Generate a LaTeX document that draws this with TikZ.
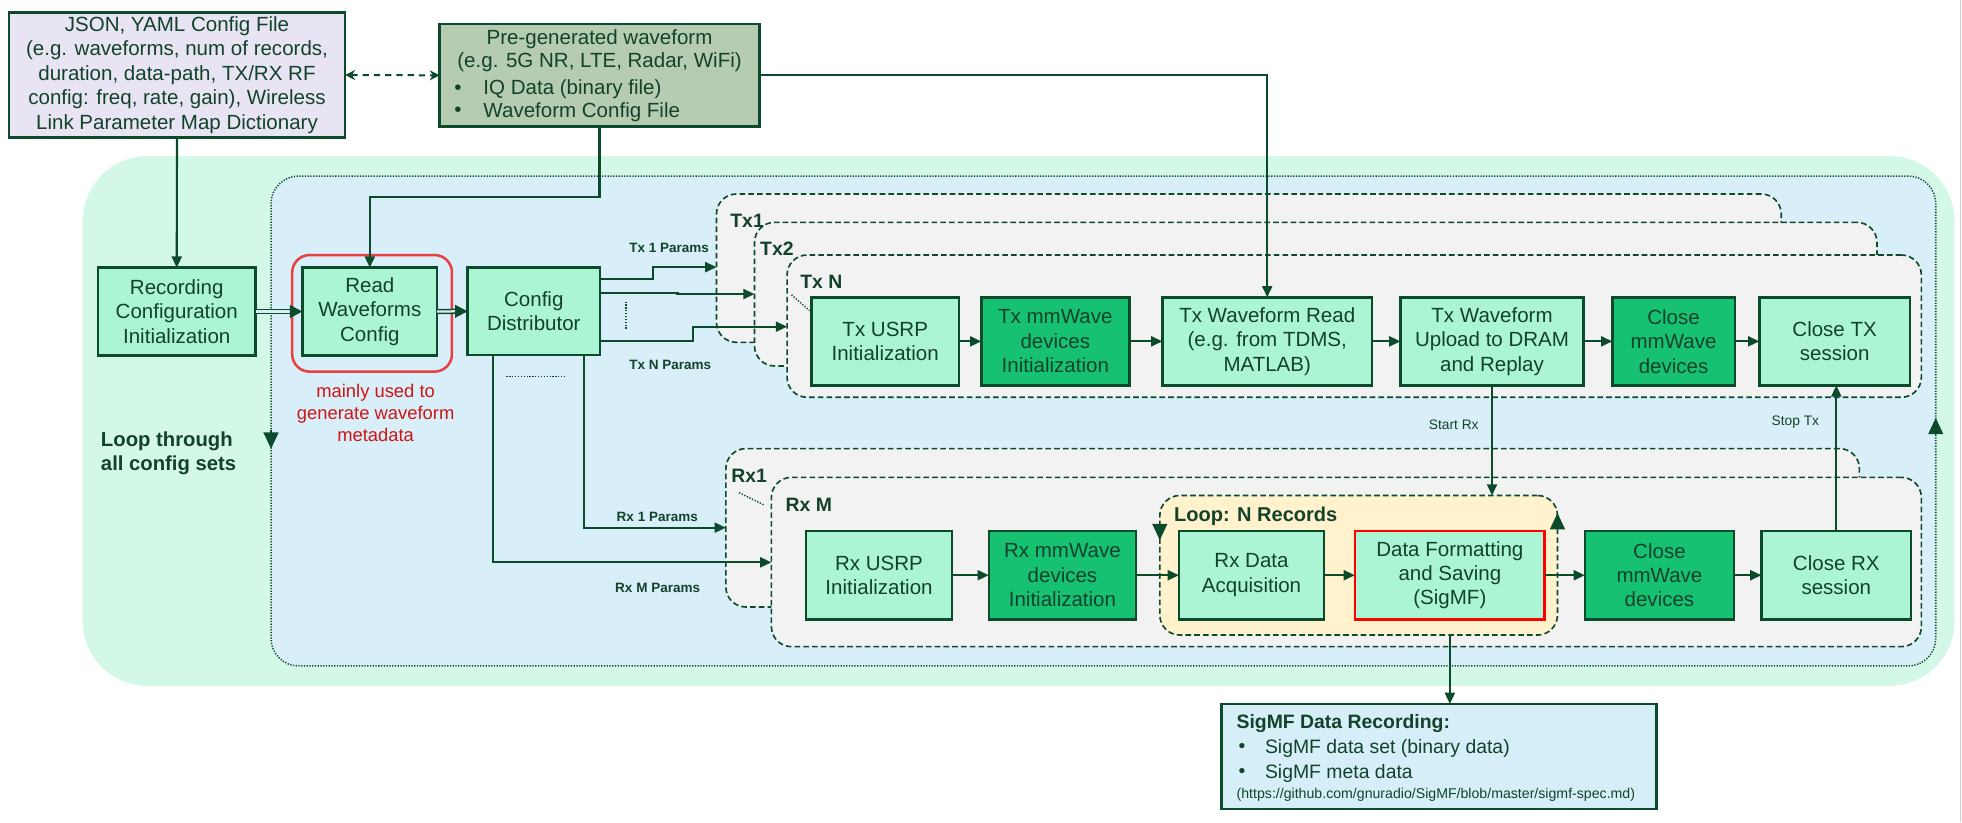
\documentclass[tikz,border=0pt]{standalone}
\usepackage{fontspec}
\setmainfont{Liberation Sans}
\usetikzlibrary{arrows.meta}

\definecolor{lnc}{HTML}{0B4A2B}
\definecolor{txc}{HTML}{12422A}
\definecolor{mintbg}{HTML}{D4F8E8}
\definecolor{bluebg}{HTML}{D8EFF9}
\definecolor{greybg}{HTML}{F2F2F2}
\definecolor{loopbg}{HTML}{FFF2CC}
\definecolor{boxlt}{HTML}{ABF5D5}
\definecolor{boxdk}{HTML}{16C172}
\definecolor{lav}{HTML}{E8E4F4}
\definecolor{sage}{HTML}{B6CCB2}
\definecolor{sigbg}{HTML}{D6EEF8}
\definecolor{redln}{HTML}{E83F3F}
\definecolor{redtx}{HTML}{CC1515}
\definecolor{edgegrey}{HTML}{CFCFCF}

\newcommand\fsz[2]{\fontsize{#1}{#2}\selectfont}

\tikzset{
  every node/.style={text=txc, inner sep=0pt, outer sep=0pt},
  box/.style={draw=lnc, line width=2pt, fill=boxlt, align=center, font=\fsz{16.4}{19.5}},
  boxd/.style={box, fill=boxdk},
  cont/.style={draw=lnc, line width=1.3pt, dash pattern=on 4.5pt off 2.5pt,
    fill=greybg, rounded corners=16pt},
  conn/.style={draw=lnc, line width=1.7pt, -{Triangle[length=9pt,width=8pt]}},
  dbl/.style={draw=lnc, line width=1.2pt, double distance=1.8pt},
  dotln/.style={draw=lnc, line width=1.2pt, dash pattern=on 1pt off 1.3pt},
  looptip/.style={draw=lnc, line width=1pt, -{Triangle[length=13pt,width=12pt]}},
  plbl/.style={font=\bfseries\fsz{10.8}{12}},
  slbl/.style={font=\fsz{11}{13}},
  clbl/.style={anchor=west, font=\bfseries\fsz{15.5}{18}},
}

\begin{document}
\begin{tikzpicture}[x=1pt,y=-1pt]
\useasboundingbox (0,0) rectangle (1568,657);

% page edge
\draw[edgegrey, line width=0.8pt] (1566.5,0) -- (1566.5,657);

% outer loop area and inner dotted region
\node[fill=mintbg, rounded corners=52pt, minimum width=1495.9pt, minimum height=423.5pt] (outer) at (814.05,336.45) {};
\node[draw=lnc, line width=1.2pt, dash pattern=on 1pt off 1.2pt, fill=bluebg, rounded corners=22pt,
      minimum width=1330.4pt, minimum height=391.5pt] (inner) at (881.8,336.45) {};

% loop direction tips on the dotted region
\draw[looptip] (inner.west |- 0,344) -- (inner.west |- 0,358.6);
\draw[looptip] (inner.east |- 0,348) -- (inner.east |- 0,334);

% input files
\node[box, fill=lav, font=\fsz{16.4}{19.6}, minimum width=268.7pt, minimum height=100.1pt] (json) at (141.45,59.95)
  {JSON, YAML Config File\\(e.g. waveforms, num of records,\\duration, data-path, TX/RX RF\\config: freq, rate, gain), Wireless\\Link Parameter Map Dictionary};
\node[box, fill=sage, minimum width=255.5pt, minimum height=82pt] (pregen) at (479.15,60.2) {};
\node[font=\fsz{16.4}{19.6}] (pg1) at (479.15,31.5) {Pre-generated waveform};
\node[font=\fsz{16.4}{19.6}] (pg2) at (479.15,49.5) {(e.g. 5G NR, LTE, Radar, WiFi)};
\node[font=\fsz{16.4}{19.6}] (pgb1) at (366,71.5) {\textbullet};
\node[font=\fsz{16.4}{19.6}, anchor=west] (pgt1) at (386.4,71.5) {IQ Data (binary file)};
\node[font=\fsz{16.4}{19.6}] (pgb2) at (366,89.5) {\textbullet};
\node[font=\fsz{16.4}{19.6}, anchor=west] (pgt2) at (386.4,89.5) {Waveform Config File};

% Tx containers
\node[cont, minimum width=850.9pt, minimum height=118.6pt] (tx1) at (998.05,214.3) {};
\node[cont, minimum width=897pt, minimum height=114.8pt] (tx2) at (1051.5,235.1) {};
\node[cont, minimum width=906.5pt, minimum height=113.7pt] (txn) at (1082.25,260.65) {};
\node[clbl] (tx1l) at (583.7,176.4) {Tx1};
\node[clbl] (tx2l) at (607.5,198.5) {Tx2};
\node[clbl] (txnl) at (639.6,225) {Tx N};

% Rx containers
\node[cont, minimum width=905.9pt, minimum height=126.6pt] (rx1) at (1033.05,421.8) {};
\node[cont, minimum width=919pt, minimum height=135.3pt] (rxm) at (1076,449.15) {};
\node[cont, fill=loopbg, minimum width=317.8pt, minimum height=111.5pt] (loop) at (1085.8,451.75) {};
\node[clbl] (rx1l) at (584.4,380.4) {Rx1};
\node[clbl] (rxml) at (627.9,403.6) {Rx M};
\node[clbl, font=\bfseries\fsz{16}{19}] (loopl) at (938.4,412.9) {Loop: N Records};
\draw[looptip] (loop.west |- 0,419.6) -- (loop.west |- 0,431.6);
\draw[looptip] (loop.east |- 0,423) -- (loop.east |- 0,410);

% ellipsis marks
\draw[dotln] (632.6,235.6) -- (646.9,248.2);
\draw[dotln] (590.7,393.7) -- (610.4,403.5);
\draw[dotln] (500.3,241) -- (500.3,263.6);
\draw[dotln] (404.7,301) -- (452.2,301);

% highlight around waveform config reader
\node[draw=redln, line width=2pt, rounded corners=14pt, minimum width=127.7pt, minimum height=93.2pt] (hl) at (297.35,250.4) {};

% setup blocks
\node[box, minimum width=125.9pt, minimum height=70.1pt] (rec) at (141.25,248.95) {Recording\\Configuration\\Initialization};
\node[box, minimum width=107.7pt, minimum height=70.1pt] (read) at (295.55,248.95) {Read\\Waveforms\\Config};
\node[box, minimum width=105.8pt, minimum height=69.8pt] (cdist) at (426.6,248.8) {Config\\Distributor};

% Tx chain
\node[box, minimum width=117.7pt, minimum height=70.4pt] (txusrp) at (707.45,272.8) {Tx USRP\\Initialization};
\node[boxd, minimum width=118.4pt, minimum height=70.4pt] (txmm) at (843.4,272.8) {Tx mmWave\\devices\\Initialization};
\node[box, minimum width=167.7pt, minimum height=70.4pt] (txread) at (1012.75,272.8) {Tx Waveform Read\\(e.g. from TDMS,\\MATLAB)};
\node[box, minimum width=146.4pt, minimum height=70.4pt] (txupl) at (1192.4,272.8) {Tx Waveform\\Upload to DRAM\\and Replay};
\node[boxd, minimum width=97.9pt, minimum height=70.4pt] (txclmm) at (1337.45,272.8) {Close\\mmWave\\devices};
\node[box, minimum width=120.4pt, minimum height=70.4pt] (txclose) at (1466.2,272.8) {Close TX\\session};

% Rx chain
\node[box, minimum width=117pt, minimum height=70.6pt] (rxusrp) at (702.5,459.7) {Rx USRP\\Initialization};
\node[boxd, minimum width=117.8pt, minimum height=70.6pt] (rxmm) at (849.1,459.7) {Rx mmWave\\devices\\Initialization};
\node[box, minimum width=116pt, minimum height=70.6pt] (rxacq) at (1000.2,459.7) {Rx Data\\Acquisition};
\node[box, draw=red, line width=2.2pt, minimum width=151.8pt, minimum height=70.6pt] (dfmt) at (1158.7,459.7) {Data Formatting\\and Saving\\(SigMF)};
\node[boxd, minimum width=119.2pt, minimum height=70.6pt] (rxclmm) at (1326.2,459.7) {Close\\mmWave\\devices};
\node[box, minimum width=119.7pt, minimum height=70.6pt] (rxclose) at (1467.55,459.7) {Close RX\\session};

% output record
\node[box, fill=sigbg, minimum width=347.6pt, minimum height=83.9pt] (sigmf) at (1150.1,604.55) {};
\node[anchor=west, font=\bfseries\fsz{15.5}{18}] (sg1) at (988.3,578) {SigMF Data Recording:};
\node[font=\fsz{15.5}{18}] (sgb1) at (992.5,598) {\textbullet};
\node[anchor=west, font=\fsz{15.5}{18}] (sg2) at (1011,598) {SigMF data set (binary data)};
\node[font=\fsz{15.5}{18}] (sgb2) at (992.5,618) {\textbullet};
\node[anchor=west, font=\fsz{15.5}{18}] (sg3) at (1011,618) {SigMF meta data};
\node[anchor=west, font=\fsz{11.3}{13}] (sg4) at (988.3,635) {(https://github.com/gnuradio/SigMF/blob/master/sigmf-spec.md)};

% notes
\node[text=redtx, align=center, font=\fsz{14.7}{17.7}] (note) at (300.2,330) {mainly used to\\generate waveform\\metadata};
\node[anchor=west, align=left, font=\bfseries\fsz{16.2}{19.2}] (loopall) at (80.7,362) {Loop through\\all config sets};

% connectors: inputs
\draw[draw=lnc, line width=1.6pt, dash pattern=on 5pt off 4pt,
      {Stealth[length=8pt,width=8pt]}-{Stealth[length=8pt,width=8pt]}] (json.east) -- (pregen.west);
\draw[conn] (json.south) -- (rec.north);
\draw[conn] (pregen.south) -- (pregen.south |- 0,157.2) -- (read.north |- 0,157.2) -- (read.north);
\draw[conn] (pregen.east) -- (txread.north |- pregen.east) -- (txread.north);

% connectors: setup
\draw[dbl, double=bluebg] (rec.east) -- ([xshift=-9pt]read.west);
\draw[conn, -{Triangle[length=10pt,width=10pt]}] ([xshift=-10pt]read.west) -- (read.west);
\draw[dbl, double=bluebg] (read.east) -- ([xshift=-9pt]cdist.west);
\draw[conn, -{Triangle[length=10pt,width=10pt]}] ([xshift=-10pt]cdist.west) -- (cdist.west);

% connectors: parameter distribution
\draw[conn] (cdist.east |- 0,223.2) -- (521.8,223.2) -- (521.8,213.5) -- (tx1.west |- 0,213.5);
\draw[conn] (cdist.east |- 0,233.9) -- (541.4,233.9) -- (541.4,235) -- (tx2.west |- 0,235);
\draw[conn] (cdist.east |- 0,272.3) -- (553.8,272.3) -- (553.8,261.1) -- (txn.west |- 0,261.1);
\draw[conn] (cdist.south -| 467,0) -- (467,421.7) -- (rx1.west |- 0,421.7);
\draw[conn] (cdist.south -| 393.7,0) -- (393.7,449.4) -- (rxm.west |- 0,449.4);
\node[plbl] (p1) at (534.7,198.4) {Tx 1 Params};
\node[plbl] (pn) at (535.6,291.7) {Tx N Params};
\node[plbl] (r1) at (525.3,413) {Rx 1 Params};
\node[plbl] (rm) at (525.6,470.2) {Rx M Params};

% connectors: Tx chain
\draw[conn] (txusrp.east) -- (txmm.west);
\draw[conn] (txmm.east) -- (txread.west);
\draw[conn] (txread.east) -- (txupl.west);
\draw[conn] (txupl.east) -- (txclmm.west);
\draw[conn] (txclmm.east) -- (txclose.west);

% connectors: Rx chain
\draw[conn] (rxusrp.east) -- (rxmm.west);
\draw[conn] (rxmm.east) -- (rxacq.west);
\draw[conn] (rxacq.east) -- (dfmt.west);
\draw[conn] (dfmt.east) -- (rxclmm.west);
\draw[conn] (rxclmm.east) -- (rxclose.west);

% Tx/Rx synchronisation and output
\draw[conn] (txupl.south) -- (txupl.south |- loop.north);
\draw[conn] (rxclose.north) -- (rxclose.north |- txclose.south);
\draw[conn] (dfmt.south |- loop.south) -- (dfmt.south |- sigmf.north);
\node[slbl] (startrx) at (1161.8,339.6) {Start Rx};
\node[slbl] (stoptx) at (1434.8,337.5) {Stop Tx};

\end{tikzpicture}
\end{document}
